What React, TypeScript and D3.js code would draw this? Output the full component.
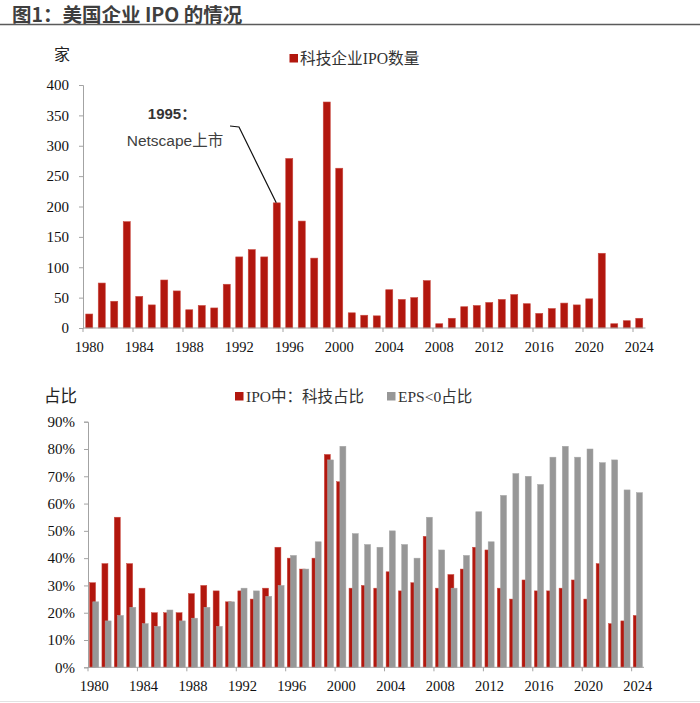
import React, { useRef, useEffect } from "react";
import * as d3 from "d3";

// 1980–2024
const years = d3.range(1980, 2025);
const labelYears = years.filter((y) => (y - 1980) % 4 === 0);

// 科技企业 IPO 数量（家）
const techIpoCount = [
  23, 74, 44, 175, 52, 38, 79, 61, 30, 37, 33, 72, 117, 129, 117, 206, 279,
  176, 115, 372, 263, 25, 21, 20, 63, 47, 50, 78, 7, 16, 35, 37, 42, 47, 55,
  40, 24, 32, 41, 38, 48, 123, 7, 12, 16,
];

// IPO 中科技企业占比（%）
const techShare = [
  31, 38, 55, 38, 29, 20, 20, 20, 27, 30, 28, 24, 28, 25, 29, 44, 40, 36, 40,
  78, 68, 29, 30, 29, 35, 28, 31, 48, 29, 34, 36, 44, 43, 29, 25, 32, 28, 28,
  29, 32, 25, 38, 16, 17, 19,
];

// EPS<0 企业占比（%）
const negEpsShare = [
  24, 17, 19, 22, 16, 15, 21, 17, 18, 22, 15, 24, 29, 28, 26, 30, 41, 36, 46,
  76, 81, 49, 45, 44, 50, 45, 40, 55, 43, 29, 41, 57, 46, 63, 71, 70, 67, 77,
  81, 77, 80, 75, 76, 65, 64,
];

const countTicks = d3.range(0, 401, 50);
const shareTicks = d3.range(0, 91, 10);

const RED = "#B2170E";
const GRAY = "#979797";
const AXIS = "#a3a3a3";
const serif = "'Liberation Serif', 'Times New Roman', 'Noto Sans CJK SC', serif";
const sans = "'Liberation Sans', Arial, 'Noto Sans CJK SC', sans-serif";

const App: React.FC = () => {
  const svgRef = useRef<SVGSVGElement | null>(null);

  useEffect(() => {
    if (!svgRef.current) return;
    const svg = d3.select(svgRef.current);
    svg.selectAll("*").remove();

    // title
    svg
      .append("text")
      .attr("x", 12)
      .attr("y", 22)
      .attr("font-family", "'Noto Sans CJK SC', sans-serif")
      .attr("font-weight", "bold")
      .attr("font-size", 19.5)
      .attr("fill", "#3f3f3f")
      .text("图1：美国企业 IPO 的情况");
    svg
      .append("line")
      .attr("x1", 0)
      .attr("x2", 700)
      .attr("y1", 24.5)
      .attr("y2", 24.5)
      .attr("stroke", "#5a5a5a")
      .attr("stroke-width", 1.6);

    const drawXAxis = (
      g: d3.Selection<SVGGElement, unknown, null, undefined>,
      x: d3.ScaleBand<number>,
      y0: number,
      labelY: number
    ) => {
      const [r0, r1] = x.range();
      g.append("line")
        .attr("x1", r0)
        .attr("x2", r1)
        .attr("y1", y0)
        .attr("y2", y0)
        .attr("stroke", AXIS);
      g.selectAll("line.xtick")
        .data(labelYears)
        .enter()
        .append("line")
        .attr("class", "xtick")
        .attr("x1", (d) => x(d)!)
        .attr("x2", (d) => x(d)!)
        .attr("y1", y0)
        .attr("y2", y0 + 4)
        .attr("stroke", AXIS);
      g.selectAll("text.xlab")
        .data(labelYears)
        .enter()
        .append("text")
        .attr("class", "xlab")
        .attr("x", (d) => x(d)! + x.bandwidth() / 2)
        .attr("y", labelY)
        .attr("text-anchor", "middle")
        .attr("font-family", serif)
        .attr("font-size", 14.5)
        .attr("fill", "#111")
        .text((d) => d);
    };

    // ---- top: tech IPO count ----
    const top = svg.append("g");
    const x1 = d3.scaleBand<number>().domain(years).range([83, 645.5]);
    const y1 = d3.scaleLinear().domain([0, 400]).range([328, 85]);

    const yAxis1 = top
      .append("g")
      .attr("transform", "translate(83,0)")
      .call(d3.axisLeft(y1).tickValues(countTicks).tickSize(4).tickPadding(10));
    yAxis1.selectAll("path,line").attr("stroke", AXIS);
    yAxis1
      .selectAll("text")
      .attr("font-family", serif)
      .attr("font-size", 15)
      .attr("fill", "#111");

    const bw1 = x1.bandwidth() * 0.56;
    top
      .selectAll("rect.bar")
      .data(years)
      .enter()
      .append("rect")
      .attr("class", "bar")
      .attr("x", (d) => x1(d)! + (x1.bandwidth() - bw1) / 2)
      .attr("width", bw1)
      .attr("y", (_, i) => y1(techIpoCount[i]))
      .attr("height", (_, i) => y1(0) - y1(techIpoCount[i]))
      .attr("fill", RED)
      .attr("stroke", "#c9483f")
      .attr("stroke-width", 0.6);

    drawXAxis(top, x1, 328, 352);

    top
      .append("text")
      .attr("x", 62)
      .attr("y", 60)
      .attr("text-anchor", "middle")
      .attr("font-family", serif)
      .attr("font-size", 16)
      .attr("fill", "#222")
      .text("家");

    // legend
    top
      .append("rect")
      .attr("x", 289.5)
      .attr("y", 54)
      .attr("width", 8.5)
      .attr("height", 8.5)
      .attr("fill", RED);
    top
      .append("text")
      .attr("x", 300)
      .attr("y", 64)
      .attr("font-family", serif)
      .attr("font-size", 15.7)
      .attr("fill", "#333")
      .text("科技企业IPO数量");

    // Netscape annotation pointing at the 1995 bar
    const i1995 = years.indexOf(1995);
    const tipX = x1(1995)! + x1.bandwidth() / 2;
    const tipY = y1(techIpoCount[i1995]);
    top
      .append("path")
      .attr("d", d3.line()([[230, 126], [239, 127], [tipX - 0.5, tipY]]))
      .attr("fill", "none")
      .attr("stroke", "#111")
      .attr("stroke-width", 1.2);
    top
      .append("text")
      .attr("x", 172)
      .attr("y", 119)
      .attr("text-anchor", "middle")
      .attr("font-family", sans)
      .attr("font-weight", "bold")
      .attr("font-size", 15)
      .attr("fill", "#333")
      .text("1995：");
    top
      .append("text")
      .attr("x", 175)
      .attr("y", 146)
      .attr("text-anchor", "middle")
      .attr("font-family", sans)
      .attr("font-size", 15.5)
      .attr("fill", "#404040")
      .text("Netscape上市");

    // ---- bottom: shares ----
    const bot = svg.append("g");
    const x2 = d3.scaleBand<number>().domain(years).range([88, 644]);
    const y2 = d3.scaleLinear().domain([0, 90]).range([667.3, 421.7]);

    const yAxis2 = bot
      .append("g")
      .attr("transform", "translate(88,0)")
      .call(
        d3
          .axisLeft(y2)
          .tickValues(shareTicks)
          .tickSize(4)
          .tickPadding(9)
          .tickFormat((d) => `${d}%`)
      );
    yAxis2.selectAll("path,line").attr("stroke", AXIS);
    yAxis2
      .selectAll("text")
      .attr("font-family", serif)
      .attr("font-size", 15)
      .attr("fill", "#111");

    const bw2 = 6;
    const mid = (d: number) => x2(d)! + x2.bandwidth() / 2;
    bot
      .selectAll("rect.tech")
      .data(years)
      .enter()
      .append("rect")
      .attr("class", "tech")
      .attr("x", (d) => mid(d) - 4.6)
      .attr("width", bw2)
      .attr("y", (_, i) => y2(techShare[i]))
      .attr("height", (_, i) => y2(0) - y2(techShare[i]))
      .attr("fill", RED)
      .attr("stroke", "#c9483f")
      .attr("stroke-width", 0.5);
    bot
      .selectAll("rect.eps")
      .data(years)
      .enter()
      .append("rect")
      .attr("class", "eps")
      .attr("x", (d) => mid(d) - 1.4)
      .attr("width", bw2)
      .attr("y", (_, i) => y2(negEpsShare[i]))
      .attr("height", (_, i) => y2(0) - y2(negEpsShare[i]))
      .attr("fill", GRAY)
      .attr("stroke", "#a8a8a8")
      .attr("stroke-width", 0.5);

    drawXAxis(bot, x2, 667.3, 691);

    bot
      .append("text")
      .attr("x", 77)
      .attr("y", 402)
      .attr("text-anchor", "end")
      .attr("font-family", serif)
      .attr("font-size", 16.5)
      .attr("fill", "#222")
      .text("占比");

    const legend2 = [
      { x: 235, color: RED, label: "IPO中：科技占比" },
      { x: 387, color: GRAY, label: "EPS<0占比" },
    ];
    legend2.forEach((l) => {
      bot
        .append("rect")
        .attr("x", l.x)
        .attr("y", 392)
        .attr("width", 8.5)
        .attr("height", 8.5)
        .attr("fill", l.color);
      bot
        .append("text")
        .attr("x", l.x + 11)
        .attr("y", 402)
        .attr("font-family", serif)
        .attr("font-size", 15.5)
        .attr("fill", "#333")
        .text(l.label);
    });

    svg
      .append("line")
      .attr("x1", 0)
      .attr("x2", 700)
      .attr("y1", 701.5)
      .attr("y2", 701.5)
      .attr("stroke", "#e2e2e2");
  }, []);

  return (
    <div style={{ position: "absolute", left: 0, top: 0 }}>
      <svg ref={svgRef} width={700} height={703} style={{ display: "block", background: "#fff" }} />
    </div>
  );
};

export default App;
